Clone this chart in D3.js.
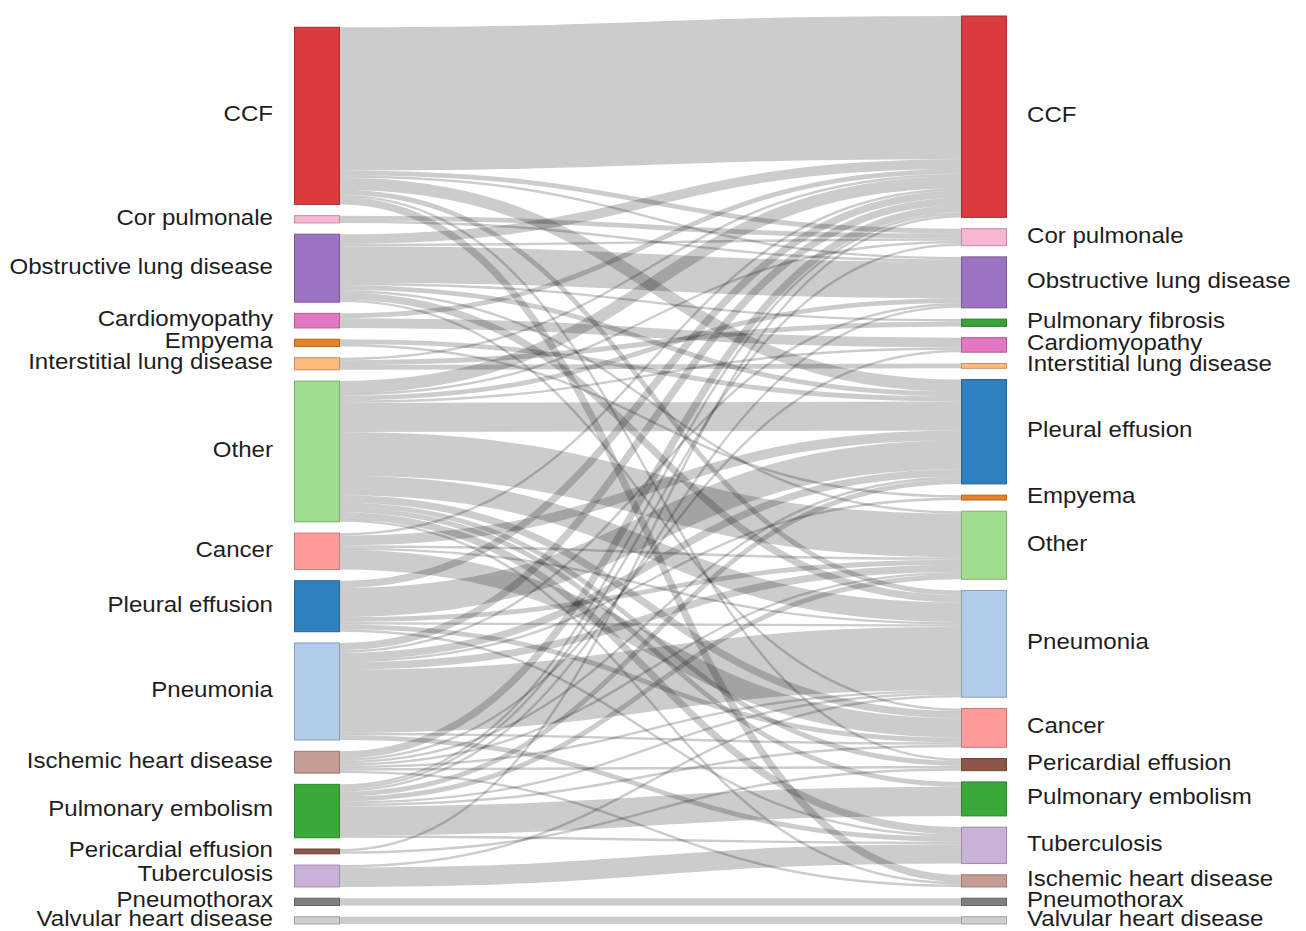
<!doctype html>
<html>
<head>
<meta charset="utf-8">
<title>Admission vs discharge diagnosis</title>
<script src="https://cdn.jsdelivr.net/npm/d3@7"></script>
<style>
  body { margin: 0; background: #fff; }
  svg { display: block; font-family: "Liberation Sans", Arial, sans-serif; }
</style>
</head>
<body>
<script>
// categories, top to bottom, in each column
const leftNames = [
  "CCF", "Cor pulmonale", "Obstructive lung disease", "Cardiomyopathy", "Empyema",
  "Interstitial lung disease", "Other", "Cancer", "Pleural effusion", "Pneumonia",
  "Ischemic heart disease", "Pulmonary embolism", "Pericardial effusion", "Tuberculosis",
  "Pneumothorax", "Valvular heart disease"
];
const rightNames = [
  "CCF", "Cor pulmonale", "Obstructive lung disease", "Pulmonary fibrosis", "Cardiomyopathy",
  "Interstitial lung disease", "Pleural effusion", "Empyema", "Other", "Pneumonia", "Cancer",
  "Pericardial effusion", "Pulmonary embolism", "Tuberculosis", "Ischemic heart disease",
  "Pneumothorax", "Valvular heart disease"
];

const categories = [
  "CCF", "Cor pulmonale", "Obstructive lung disease", "Pulmonary fibrosis", "Cardiomyopathy",
  "Empyema", "Interstitial lung disease", "Other", "Cancer", "Pleural effusion", "Pneumonia",
  "Ischemic heart disease", "Pulmonary embolism", "Pericardial effusion", "Tuberculosis",
  "Pneumothorax", "Valvular heart disease"
];
const palette = [
  "#d93b3f", "#f7b6d2", "#9c72c2", "#3aa03a", "#e377c2",
  "#e8822a", "#fdbb7c", "#a0de8f", "#ff9c9a", "#2f80bf", "#b1cbea",
  "#c49c94", "#3aa93a", "#8c564b", "#c8b2d8",
  "#7f7f7f", "#cfcfcf"
];

// [left diagnosis, right diagnosis, patients]
const flows = [
  ["CCF", "CCF", 59], ["CCF", "Cor pulmonale", 2], ["CCF", "Obstructive lung disease", 1],
  ["CCF", "Pleural effusion", 5], ["CCF", "Pneumonia", 2], ["CCF", "Pericardial effusion", 1],
  ["CCF", "Ischemic heart disease", 3],
  ["Cor pulmonale", "Cor pulmonale", 2], ["Cor pulmonale", "Obstructive lung disease", 1],
  ["Obstructive lung disease", "CCF", 4], ["Obstructive lung disease", "Cor pulmonale", 1],
  ["Obstructive lung disease", "Obstructive lung disease", 15], ["Obstructive lung disease", "Pulmonary fibrosis", 1],
  ["Obstructive lung disease", "Pleural effusion", 2], ["Obstructive lung disease", "Other", 1],
  ["Obstructive lung disease", "Pneumonia", 3], ["Obstructive lung disease", "Cancer", 1],
  ["Cardiomyopathy", "CCF", 2], ["Cardiomyopathy", "Cardiomyopathy", 4],
  ["Empyema", "Pleural effusion", 2], ["Empyema", "Empyema", 1],
  ["Interstitial lung disease", "CCF", 1], ["Interstitial lung disease", "Pulmonary fibrosis", 2],
  ["Interstitial lung disease", "Interstitial lung disease", 2],
  ["Other", "CCF", 5], ["Other", "Cor pulmonale", 1], ["Other", "Obstructive lung disease", 2],
  ["Other", "Cardiomyopathy", 1], ["Other", "Pleural effusion", 12], ["Other", "Other", 18],
  ["Other", "Pneumonia", 8], ["Other", "Cancer", 3], ["Other", "Pericardial effusion", 2],
  ["Other", "Pulmonary embolism", 2], ["Other", "Tuberculosis", 3], ["Other", "Ischemic heart disease", 1],
  ["Cancer", "CCF", 1], ["Cancer", "Pleural effusion", 4], ["Cancer", "Other", 1],
  ["Cancer", "Pneumonia", 1], ["Cancer", "Cancer", 8],
  ["Pleural effusion", "CCF", 3], ["Pleural effusion", "Pleural effusion", 12], ["Pleural effusion", "Other", 2],
  ["Pleural effusion", "Pneumonia", 1], ["Pleural effusion", "Cancer", 2], ["Pleural effusion", "Tuberculosis", 1],
  ["Pneumonia", "CCF", 3], ["Pneumonia", "Obstructive lung disease", 1], ["Pneumonia", "Pleural effusion", 3],
  ["Pneumonia", "Empyema", 1], ["Pneumonia", "Other", 3], ["Pneumonia", "Pneumonia", 26],
  ["Pneumonia", "Cancer", 1], ["Pneumonia", "Tuberculosis", 2],
  ["Ischemic heart disease", "CCF", 3], ["Ischemic heart disease", "Cardiomyopathy", 1],
  ["Ischemic heart disease", "Pleural effusion", 1], ["Ischemic heart disease", "Other", 1],
  ["Ischemic heart disease", "Pneumonia", 1], ["Ischemic heart disease", "Pericardial effusion", 1],
  ["Ischemic heart disease", "Ischemic heart disease", 1],
  ["Pulmonary embolism", "CCF", 1], ["Pulmonary embolism", "Cor pulmonale", 1],
  ["Pulmonary embolism", "Obstructive lung disease", 1], ["Pulmonary embolism", "Pleural effusion", 2],
  ["Pulmonary embolism", "Other", 2], ["Pulmonary embolism", "Pneumonia", 1], ["Pulmonary embolism", "Cancer", 1],
  ["Pulmonary embolism", "Pulmonary embolism", 12], ["Pulmonary embolism", "Tuberculosis", 1],
  ["Pericardial effusion", "CCF", 1], ["Pericardial effusion", "Pericardial effusion", 1],
  ["Tuberculosis", "Pneumonia", 1], ["Tuberculosis", "Tuberculosis", 8],
  ["Pneumothorax", "Pneumothorax", 3],
  ["Valvular heart disease", "Valvular heart disease", 3]
];

const width = 1306, height = 931;
const nodeWidth = 46, nodePadding = 11.25;
const plotTop = 16, plotBottom = 924;

const color = d3.scaleOrdinal().domain(categories).range(palette);
const column = d3.scaleLinear().domain([0, 1]).range([294, 961]);

const total = d3.sum(flows, (d) => d[2]);
const maxCount = Math.max(leftNames.length, rightNames.length);
const value = d3.scaleLinear()
    .domain([0, total])
    .range([0, (plotBottom - plotTop) - (maxCount - 1) * nodePadding]);

// build nodes for one column, stacked so the column ends at the bottom
function makeColumn(names, side) {
  const nodes = names.map((name) => ({name, side, sourceLinks: [], targetLinks: []}));
  const h = value(total) + (names.length - 1) * nodePadding;
  let y = plotBottom - h;
  for (const n of nodes) {
    n.value = d3.sum(flows.filter((f) => f[side] === n.name), (f) => f[2]);
    n.x0 = column(side);
    n.x1 = n.x0 + nodeWidth;
    n.y0 = y;
    n.y1 = y + value(n.value);
    y = n.y1 + nodePadding;
  }
  return nodes;
}

const leftNodes = makeColumn(leftNames, 0);
const rightNodes = makeColumn(rightNames, 1);
const leftBy = new Map(leftNodes.map((n) => [n.name, n]));
const rightBy = new Map(rightNodes.map((n) => [n.name, n]));

const links = flows.map(([s, t, v]) => {
  const l = {source: leftBy.get(s), target: rightBy.get(t), value: v, width: value(v)};
  l.source.sourceLinks.push(l);
  l.target.targetLinks.push(l);
  return l;
});

for (const n of leftNodes) {
  let y = n.y0;
  n.sourceLinks.sort((a, b) => a.target.y0 - b.target.y0);
  for (const l of n.sourceLinks) { l.y0 = y + l.width / 2; y += l.width; }
}
for (const n of rightNodes) {
  let y = n.y0;
  n.targetLinks.sort((a, b) => a.source.y0 - b.source.y0);
  for (const l of n.targetLinks) { l.y1 = y + l.width / 2; y += l.width; }
}

const svg = d3.select("body").append("svg")
    .attr("width", width)
    .attr("height", height)
    .attr("viewBox", [0, 0, width, height]);

svg.append("g")
    .attr("fill", "none")
    .attr("stroke", "#000")
    .attr("stroke-opacity", 0.2)
  .selectAll("path")
  .data(links)
  .join("path")
    .attr("d", d3.linkHorizontal()
        .source((d) => [d.source.x1, d.y0])
        .target((d) => [d.target.x0, d.y1]))
    .attr("stroke-width", (d) => Math.max(1, d.width));

const nodes = leftNodes.concat(rightNodes);

svg.append("g")
  .selectAll("rect")
  .data(nodes)
  .join("rect")
    .attr("x", (d) => d.x0 + 0.5)
    .attr("y", (d) => d.y0)
    .attr("width", nodeWidth - 1)
    .attr("height", (d) => Math.max(1, d.y1 - d.y0))
    .attr("fill", (d) => color(d.name))
    .attr("stroke", (d) => d3.color(color(d.name)).darker(0.7))
    .attr("stroke-width", 1);

// labels are a little wider than the plain font, so stretch them slightly
svg.append("g")
    .attr("font-size", 22.5)
    .attr("fill", "#1e1e1e")
  .selectAll("text")
  .data(nodes)
  .join("text")
    .attr("transform", (d) => `translate(${d.side === 0 ? d.x0 - 21 : d.x1 + 20},${(d.y0 + d.y1) / 2 - 2.5}) scale(1.07,1)`)
    .attr("dy", "0.35em")
    .attr("text-anchor", (d) => d.side === 0 ? "end" : "start")
    .text((d) => d.name);
</script>
</body>
</html>
